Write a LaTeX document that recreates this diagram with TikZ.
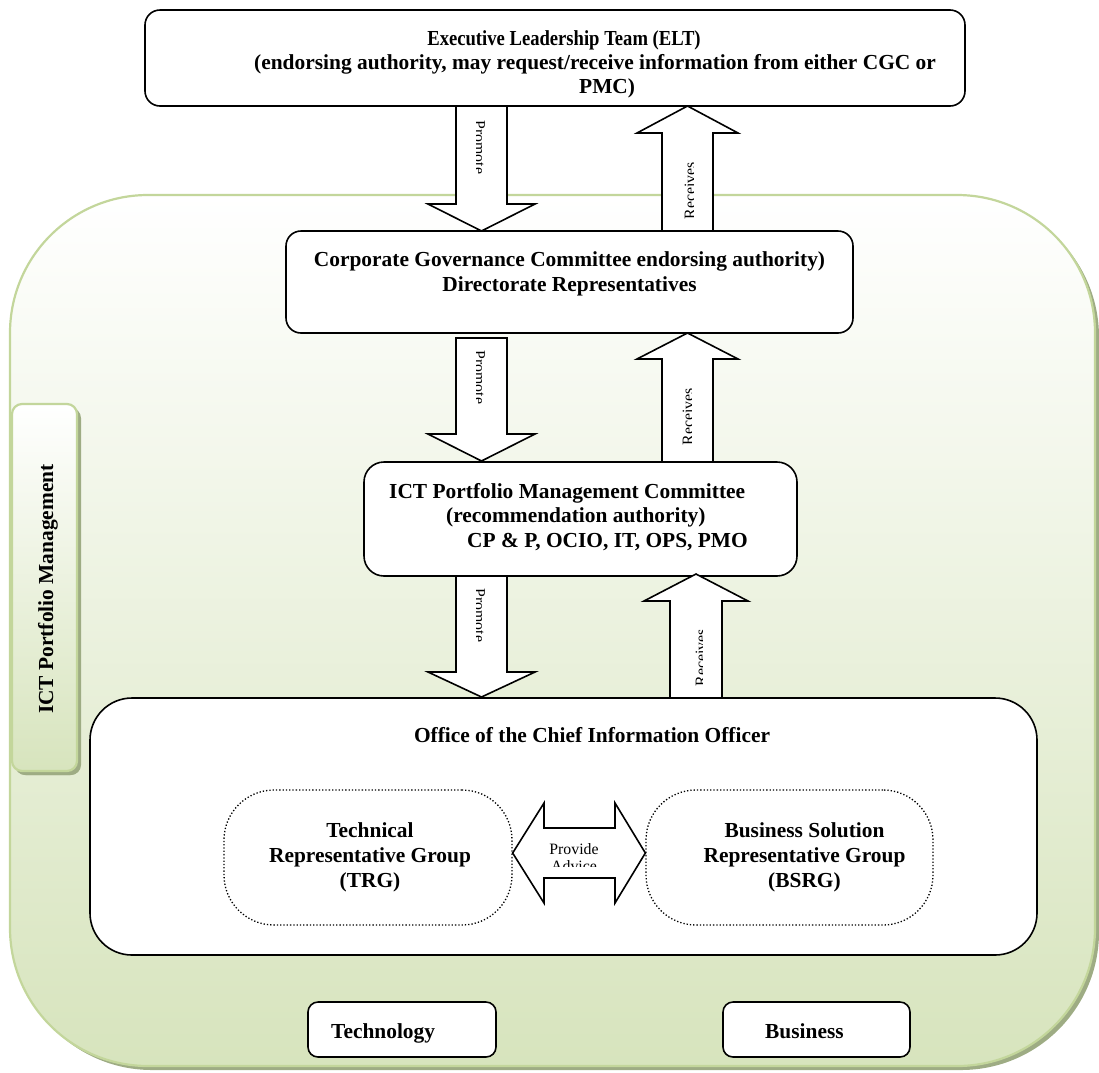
\documentclass[tikz,border=0pt]{standalone}
\usepackage{fontspec}
\setmainfont{Liberation Serif}
\usetikzlibrary{shadows}
\definecolor{panelline}{RGB}{195,214,155}
\definecolor{panelfill}{RGB}{215,228,189}
\definecolor{panelshade}{RGB}{158,172,132}
\begin{document}
\begin{tikzpicture}[x=1pt,y=-1pt,
  panel/.style={rectangle, draw=panelline, line width=2.2pt, top color=white, bottom color=panelfill,
    inner sep=0pt, drop shadow={shadow xshift=4pt, shadow yshift=-4pt, fill=panelshade, opacity=1}},
  blackbox/.style={rectangle, draw=black, line width=1.6pt, fill=white, inner sep=0pt},
  dotbox/.style={rectangle, draw=black, dotted, line width=1.3pt, rounded corners=50pt, inner sep=0pt},
  blockarrow/.style={draw=black, fill=white, line width=1.6pt, line join=miter},
  bigtext/.style={font=\fontsize{21.4}{25}\selectfont\bfseries, inner sep=0pt},
  arrowlabel/.style={font=\fontsize{15.8}{18}\selectfont, inner sep=0pt},
]
\useasboundingbox (0,0) rectangle (1099,1072);

% green governance panel and its side tab
\node[panel, rounded corners=138pt, minimum width=1085pt, minimum height=871pt] (panel) at (552.5,630.5) {};
\node[panel, rounded corners=10pt, minimum width=65pt, minimum height=367pt,
  drop shadow={shadow xshift=3pt, shadow yshift=-4pt, fill=panelshade, opacity=1}] (tab) at (44.5,587.5) {};
\node[bigtext, rotate=90, anchor=base] (tabtext) at (53,589) {ICT Portfolio Management};

% committee boxes
\node[blackbox, rounded corners=15pt, minimum width=820pt, minimum height=96pt] (elt) at (555,58) {};
\node[blackbox, rounded corners=15pt, minimum width=567pt, minimum height=102pt] (cgc) at (569.5,282) {};
\node[blackbox, rounded corners=20pt, minimum width=433pt, minimum height=114pt] (pmc) at (580.5,519) {};
\node[blackbox, rounded corners=42pt, minimum width=947pt, minimum height=257pt] (ocio) at (563.5,826.5) {};
\node[dotbox, minimum width=288pt, minimum height=135pt] (trg) at (368,857.5) {};
\node[dotbox, minimum width=287pt, minimum height=135pt] (bsrg) at (789.5,857.5) {};
\node[blackbox, rounded corners=10pt, minimum width=188pt, minimum height=55pt] (tech) at (402,1029.5) {};
\node[blackbox, rounded corners=10pt, minimum width=187pt, minimum height=55pt] (bus) at (816.5,1029.5) {};

% block arrows pointing down
\draw[blockarrow] (456,106) -- (507,106) -- (507,204) -- (535,204) -- (481.5,231) -- (428,204) -- (456,204) -- cycle;
\draw[blockarrow] (456,338) -- (507,338) -- (507,434) -- (535,434) -- (481.5,461) -- (428,434) -- (456,434) -- cycle;
\draw[blockarrow] (456,576) -- (507,576) -- (507,672) -- (535,672) -- (481.5,697) -- (428,672) -- (456,672) -- cycle;
% block arrows pointing up
\draw[blockarrow] (662,231) -- (713,231) -- (713,133) -- (738,133) -- (687.5,106) -- (637,133) -- (662,133) -- cycle;
\draw[blockarrow] (662,462) -- (713,462) -- (713,359) -- (738,359) -- (687.5,333) -- (637,359) -- (662,359) -- cycle;
\draw[blockarrow] (670,698) -- (722,698) -- (722,601) -- (748,601) -- (696,574) -- (644,601) -- (670,601) -- cycle;
% two-way arrow between the groups
\draw[blockarrow] (trg.east |- 0,853) -- (544,803) -- (544,828) -- (615,828) -- (615,803) -- (bsrg.west |- 0,853)
  -- (615,903) -- (615,878) -- (544,878) -- (544,903) -- cycle;

% arrow labels, cut off by their text frames
\begin{scope}
  \clip (476.5,110) rectangle (500,200);
  \node[arrowlabel, rotate=-90, anchor=base] (p1) at (474.5,147.5) {Promote};
\end{scope}
\begin{scope}
  \clip (476.5,342) rectangle (500,430);
  \node[arrowlabel, rotate=-90, anchor=base] (p2) at (474.5,377.5) {Promote};
\end{scope}
\begin{scope}
  \clip (476.5,580) rectangle (500,668);
  \node[arrowlabel, rotate=-90, anchor=base] (p3) at (474.5,615.5) {Promote};
\end{scope}
\begin{scope}
  \clip (670,137) rectangle (693,228);
  \node[arrowlabel, rotate=90, anchor=base] (r1) at (695,190.5) {Receives};
\end{scope}
\begin{scope}
  \clip (668,363) rectangle (691,459);
  \node[arrowlabel, rotate=90, anchor=base] (r2) at (693,416.5) {Receives};
\end{scope}
\begin{scope}
  \clip (678,605) rectangle (702,695);
  \node[arrowlabel, rotate=90, anchor=base] (r3) at (706,657.5) {Receives};
\end{scope}
\node[arrowlabel, anchor=base] (adv1) at (574,854) {Provide};
\begin{scope}
  \clip (546,858) rectangle (613,866.5);
  \node[arrowlabel, anchor=base] (adv2) at (574,871.5) {Advice};
\end{scope}

% box texts
\node[bigtext, anchor=base] (elt1) at (564,45.5) {\scalebox{0.87}[1]{Executive Leadership Team (ELT)}};
\node[bigtext, anchor=base west] (elt2) at (254,69.5) {(endorsing authority, may request/receive information from either CGC or};
\node[bigtext, anchor=base west] (elt3) at (579,93) {PMC)};
\node[bigtext, anchor=base] (cgc1) at (569.5,266) {Corporate Governance Committee endorsing authority)};
\node[bigtext, anchor=base] (cgc2) at (569.5,291) {Directorate Representatives};
\node[bigtext, anchor=base west] (pmc1) at (389,498) {ICT Portfolio Management Committee};
\node[bigtext, anchor=base west] (pmc2) at (446,522) {(recommendation authority)};
\node[bigtext, anchor=base west] (pmc3) at (467,547) {CP \& P, OCIO, IT, OPS, PMO};
\node[bigtext, anchor=base] (ocio1) at (592,742) {Office of the Chief Information Officer};
\node[bigtext, anchor=base] (trg1) at (370,837) {Technical};
\node[bigtext, anchor=base] (trg2) at (370,862) {Representative Group};
\node[bigtext, anchor=base] (trg3) at (370,887) {(TRG)};
\node[bigtext, anchor=base] (bsrg1) at (804.5,837) {Business Solution};
\node[bigtext, anchor=base] (bsrg2) at (804.5,862) {Representative Group};
\node[bigtext, anchor=base] (bsrg3) at (804.5,887) {(BSRG)};
\node[bigtext, anchor=base west] (tech1) at (331,1038) {Technology};
\node[bigtext, anchor=base west] (bus1) at (765,1038) {Business};
\end{tikzpicture}
\end{document}
